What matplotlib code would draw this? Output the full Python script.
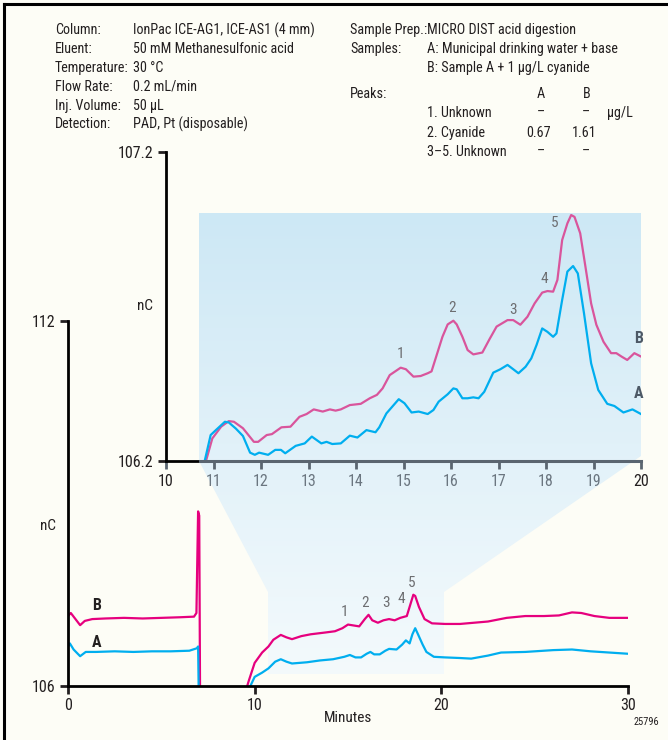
import numpy as np
import matplotlib
matplotlib.use("Agg")
import matplotlib.pyplot as plt
from matplotlib.colors import LinearSegmentedColormap
from matplotlib.patches import Polygon

plt.rcParams["font.family"] = ["Roboto Condensed", "DejaVu Sans"]

# ---- main chromatogram (0-30 min) ----
main_b_x = [0.0, 0.15, 0.35, 0.65, 0.9, 1.3, 2, 3, 4, 5, 6, 6.75, 6.88, 6.97, 7.03, 7.08,
            9.5, 9.7, 10.0, 10.4, 10.74, 11.0, 11.4, 11.7, 12.0, 12.5, 13.0, 13.8, 14.3,
            14.7, 15.0, 15.2, 15.6, 15.9, 16.1, 16.3, 16.6, 16.9, 17.2, 17.5, 17.8, 18.15,
            18.3, 18.5, 18.6, 18.8, 19.1, 19.5, 20.2, 21, 22.5, 23.5, 24.5, 25.5, 26.3,
            27.0, 27.5, 28.2, 29, 30]
main_b_y = [107.15, 107.2, 107.12, 107.0, 107.07, 107.1, 107.11, 107.12, 107.11, 107.12,
            107.13, 107.14, 107.2, 108.87, 108.8, 105.5,
            105.9, 106.1, 106.38, 106.55, 106.65, 106.76, 106.84, 106.8, 106.77, 106.82,
            106.85, 106.88, 106.9, 106.95, 107.01, 107.0, 106.98, 107.1, 107.17, 107.08,
            107.04, 107.08, 107.1, 107.08, 107.12, 107.15, 107.3, 107.5, 107.48, 107.3,
            107.1, 107.03, 107.02, 107.02, 107.06, 107.12, 107.15, 107.15, 107.16, 107.21,
            107.2, 107.15, 107.12, 107.12]

main_a_x = [0.0, 0.1, 0.3, 0.65, 0.95, 1.5, 2.5, 3.5, 4.5, 5.5, 6.5, 6.9, 6.97, 7.02,
            9.7, 9.8, 10.0, 10.4, 10.74, 11.1, 11.4, 11.7, 12.0, 12.8, 13.5, 14.2, 14.8,
            15.1, 15.4, 15.7, 16.0, 16.2, 16.4, 16.7, 17.0, 17.2, 17.6, 17.9, 18.1, 18.3,
            18.45, 18.6, 18.75, 19.0, 19.2, 19.6, 20.2, 21.0, 21.6, 22.5, 23.2, 24.5, 26.0,
            27.0, 28, 29, 30]
main_a_y = [106.65, 106.7, 106.6, 106.49, 106.56, 106.56, 106.57, 106.56, 106.57, 106.57,
            106.58, 106.62, 106.65, 105.5,
            105.95, 106.02, 106.15, 106.22, 106.29, 106.4, 106.44, 106.4, 106.37, 106.39,
            106.42, 106.44, 106.48, 106.51, 106.47, 106.47, 106.53, 106.56, 106.52, 106.52,
            106.58, 106.61, 106.6, 106.68, 106.75, 106.7, 106.85, 106.95, 106.85, 106.68,
            106.56, 106.48, 106.47, 106.46, 106.45, 106.5, 106.55, 106.56, 106.59, 106.6,
            106.57, 106.55, 106.53]

main_peak_x = [14.8, 15.9, 17.05, 17.85, 18.4]
main_peak_y = [107.21, 107.36, 107.36, 107.43, 107.69]
peak_lbl = ["1", "2", "3", "4", "5"]

# ---- expanded view (10-20 min) ----
ins_b_x = [10.75, 10.975, 11.16, 11.32, 11.43, 11.62, 11.85, 11.94, 12.12, 12.23, 12.43,
           12.62, 12.81, 12.96, 13.11, 13.30, 13.45, 13.57, 13.68, 13.87, 14.10, 14.29,
           14.44, 14.56, 14.71, 14.94, 15.05, 15.21, 15.36, 15.51, 15.59, 15.82, 15.93,
           16.05, 16.12, 16.24, 16.35, 16.47, 16.66, 16.81, 16.96, 17.19, 17.31, 17.46,
           17.61, 17.76, 17.92, 18.03, 18.15, 18.24, 18.34, 18.45, 18.53, 18.60, 18.72,
           18.83, 18.95, 19.06, 19.21, 19.37, 19.48, 19.59, 19.71, 19.86, 20.0]
ins_b_y = [106.15, 106.273, 106.311, 106.329, 106.327, 106.306, 106.262, 106.262, 106.284,
           106.287, 106.309, 106.311, 106.343, 106.352, 106.367, 106.36, 106.367, 106.363,
           106.367, 106.381, 106.385, 106.403, 106.414, 106.435, 106.478, 106.502, 106.497,
           106.473, 106.475, 106.484, 106.49, 106.602, 106.642, 106.654, 106.642, 106.602,
           106.559, 106.545, 106.551, 106.594, 106.635, 106.656, 106.656, 106.641, 106.667,
           106.71, 106.745, 106.75, 106.748, 106.786, 106.915, 106.969, 106.996, 106.99,
           106.937, 106.829, 106.71, 106.641, 106.586, 106.549, 106.549, 106.538, 106.527,
           106.549, 106.538]

ins_a_x = [10.74, 10.94, 11.05, 11.24, 11.32, 11.47, 11.62, 11.77, 11.87, 11.96, 12.15,
           12.30, 12.42, 12.51, 12.73, 12.92, 13.07, 13.27, 13.38, 13.50, 13.68, 13.87,
           14.03, 14.22, 14.41, 14.49, 14.64, 14.90, 15.02, 15.17, 15.32, 15.51, 15.63,
           15.74, 15.93, 16.05, 16.12, 16.24, 16.35, 16.47, 16.58, 16.70, 16.89, 17.04,
           17.19, 17.31, 17.42, 17.57, 17.69, 17.80, 17.92, 18.03, 18.15, 18.22, 18.34,
           18.45, 18.57, 18.67, 18.80, 18.95, 19.10, 19.29, 19.44, 19.63, 19.82, 20.0]
ins_a_y = [106.15, 106.284, 106.30, 106.327, 106.325, 106.305, 106.281, 106.227, 106.22,
           106.227, 106.22, 106.236, 106.236, 106.225, 106.249, 106.257, 106.279, 106.257,
           106.262, 106.255, 106.257, 106.282, 106.276, 106.30, 106.293, 106.309, 106.354,
           106.40, 106.387, 106.357, 106.36, 106.352, 106.365, 106.392, 106.416, 106.435,
           106.432, 106.403, 106.403, 106.406, 106.403, 106.424, 106.486, 106.497, 106.511,
           106.497, 106.484, 106.505, 106.532, 106.575, 106.629, 106.618, 106.602, 106.613,
           106.721, 106.813, 106.831, 106.807, 106.678, 106.516, 106.43, 106.385, 106.378,
           106.357, 106.367, 106.352]

ins_peak_x = [14.94, 16.03, 17.30, 17.97, 18.19]
ins_peak_y = [106.545, 106.695, 106.69, 106.79, 106.97]

left_info = [("Column:", "IonPac ICE-AG1, ICE-AS1 (4 mm)"),
             ("Eluent:", "50 mM Methanesulfonic acid"),
             ("Temperature:", "30 °C"),
             ("Flow Rate:", "0.2 mL/min"),
             ("Inj. Volume:", "50 µL"),
             ("Detection:", "PAD, Pt (disposable)")]

W, H = 668, 740
BG = "#fdfdf6"
PINK = "#e6007e"
PINK_IN = "#d9559c"
CYAN = "#00aeef"
GRAY = "#6d6e71"
TXT = "#231f20"

fig = plt.figure(figsize=(W / 100, H / 100), dpi=100, facecolor=BG)


def px_text(x, y, s, **kw):
    kw.setdefault("va", "center")
    kw.setdefault("fontsize", 10.2)
    kw.setdefault("color", TXT)
    fig.text(x / W, 1 - y / H, s, **kw)


# background layer in pixel coordinates: shading and frame
bg = fig.add_axes([0, 0, 1, 1], zorder=0)
bg.set_xlim(0, W)
bg.set_ylim(H, 0)
bg.axis("off")
cmap = LinearSegmentedColormap.from_list("shade", ["#cde8f5", "#e1f1f9", "#f4fafc"])
grad = np.linspace(0, 1, 256)[:, None]
im = bg.imshow(grad, extent=(195, 645, 675, 212), cmap=cmap, aspect="auto")
shape = Polygon([(199, 213), (641, 213), (641, 456), (444, 592), (444, 674),
                 (268, 674), (268, 592), (199, 461)], closed=True,
                facecolor="none", edgecolor="none")
bg.add_patch(shape)
im.set_clip_path(shape)
bg.plot([4, 4], [4, H], color="black", lw=2.2)
bg.plot([4, W], [4, 4], color="black", lw=2.2)

# main chart
ax = fig.add_axes([68 / W, 1 - 686 / H, 560 / W, 365 / H], zorder=1)
ax.patch.set_alpha(0)
ax.plot(main_b_x, main_b_y, color=PINK, lw=1.6)
ax.plot(main_a_x, main_a_y, color=CYAN, lw=1.6)
ax.set_xlim(0, 30)
ax.set_ylim(106, 112)
for s in ["top", "right"]:
    ax.spines[s].set_visible(False)
for s in ["left", "bottom"]:
    ax.spines[s].set_linewidth(2)
ax.set_xticks([0, 10, 20, 30])
ax.set_yticks([106, 112])
ax.set_yticklabels(["106", "112"])
ax.tick_params(axis="both", length=6, width=2, labelsize=11.5, pad=3, colors=TXT)
for px, py, t in zip(main_peak_x, main_peak_y, peak_lbl):
    ax.text(px, py, t, color=GRAY, fontsize=11, ha="center", va="center")
ax.text(1.55, 107.33, "B", fontsize=11.5, fontweight="bold", ha="center", va="center",
        color=TXT)
ax.text(1.55, 106.72, "A", fontsize=11.5, fontweight="bold", ha="center", va="center",
        color=TXT)

# expanded view
ins = fig.add_axes([166 / W, 1 - 461 / H, 475 / W, 309 / H], zorder=2)
ins.patch.set_alpha(0)
ins.plot(ins_b_x, ins_b_y, color=PINK_IN, lw=1.6)
ins.plot(ins_a_x, ins_a_y, color=CYAN, lw=1.6)
ins.set_xlim(10, 20)
ins.set_ylim(106.2, 107.2)
for s in ["top", "right"]:
    ins.spines[s].set_visible(False)
for s in ["left", "bottom"]:
    ins.spines[s].set_linewidth(2)
ins.set_xticks(range(10, 21))
ins.set_yticks([106.2, 107.2])
ins.set_yticklabels(["106.2", "107.2"])
ins.tick_params(axis="both", length=6, width=2, labelsize=11.5, pad=3, colors=TXT)
ins.tick_params(axis="x", colors="#5a6570")
for lbl in ins.get_xticklabels():
    lbl.set_color(TXT if lbl.get_text() in ("10", "20") else "#6b7680")
ins.plot([10.72, 20], [106.2, 106.2], color="#5a6570", lw=2.2, clip_on=False, zorder=5)
for px, py, t in zip(ins_peak_x, ins_peak_y, peak_lbl):
    ins.text(px, py, t, color=GRAY, fontsize=11, ha="center", va="center")
ins.text(19.94, 106.595, "B", color="#4d5966", fontsize=11.5, fontweight="bold",
         ha="center", va="center")
ins.text(19.94, 106.42, "A", color="#4d5966", fontsize=11.5, fontweight="bold",
         ha="center", va="center")

# axis titles
px_text(137, 306, "nC", fontsize=11, ha="left")
px_text(40, 526, "nC", fontsize=11, ha="left")
px_text(348, 718, "Minutes", fontsize=11, ha="center")
px_text(659, 722, "25796", fontsize=7.5, ha="right")

# method information
for i, (k, v) in enumerate(left_info):
    y = 30 + i * 18.9
    px_text(55, y, k)
    px_text(133, y, v)

px_text(350, 30, "Sample Prep.:")
px_text(427, 30, "MICRO DIST acid digestion")
px_text(350, 49, "Samples:")
px_text(427, 49, "A: Municipal drinking water + base")
px_text(427, 68, "B: Sample A + 1 µg/L cyanide")
px_text(350, 94, "Peaks:")
px_text(541, 94, "A", ha="center")
px_text(587, 94, "B", ha="center")
px_text(427, 113, "1. Unknown")
px_text(541, 113, "–", ha="center")
px_text(586, 113, "–", ha="center")
px_text(607, 113, "µg/L")
px_text(427, 133, "2. Cyanide")
px_text(539, 133, "0.67", ha="center")
px_text(584, 133, "1.61", ha="center")
px_text(427, 152, "3–5. Unknown")
px_text(541, 152, "–", ha="center")
px_text(586, 152, "–", ha="center")

fig.savefig("out.png", dpi=100, facecolor=BG)
